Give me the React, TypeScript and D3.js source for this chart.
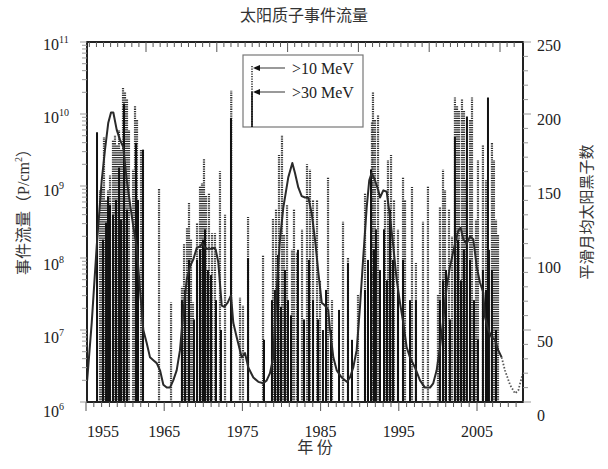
import React from "react";
import * as d3 from "d3";

// ---- Data ----
const sunspotYears = [1955.2, 1955.75, 1956.35, 1956.96, 1957.35, 1957.75, 1958.08, 1958.36, 1958.77, 1959.17, 1959.56, 1959.98, 1960.37, 1960.77, 1961.18, 1961.58, 1961.98, 1962.39, 1962.79, 1963.19, 1963.6, 1964.0, 1964.4, 1964.81, 1965.2, 1965.6, 1966.01, 1966.41, 1966.81, 1967.22, 1967.62, 1968.02, 1968.43, 1968.83, 1969.11, 1969.43, 1969.91, 1970.43, 1970.72, 1971.04, 1971.45, 1971.76, 1972.17, 1972.57, 1972.85, 1973.26, 1973.86, 1974.26, 1974.66, 1975.27, 1975.87, 1976.47, 1976.88, 1977.28, 1977.68, 1978.09, 1978.49, 1978.89, 1979.49, 1979.98, 1980.3, 1980.7, 1981.11, 1981.51, 1981.91, 1982.32, 1982.72, 1983.12, 1983.53, 1983.92, 1984.32, 1984.53, 1984.93, 1985.34, 1985.94, 1986.55, 1986.94, 1987.34, 1987.75, 1988.15, 1988.55, 1988.96, 1989.27, 1989.56, 1989.96, 1990.36, 1990.57, 1990.97, 1991.38, 1991.77, 1992.17, 1992.58, 1992.98, 1993.38, 1993.79, 1994.19, 1994.79, 1995.4, 1996.0, 1996.61, 1997.0, 1997.41, 1997.81, 1998.21, 1998.62, 1999.02, 1999.63, 2000.02, 2000.31, 2000.63, 2001.04, 2001.44, 2001.84, 2002.25, 2002.64, 2003.04, 2003.25, 2003.65, 2004.06, 2004.46, 2004.85, 2005.26];
const sunspotValues = [15, 55, 108, 154, 175, 194, 201, 201, 189, 182, 177, 154, 138, 122, 108, 78, 50, 41, 31, 29, 27, 22, 12, 10, 10, 15, 22, 36, 62, 85, 94, 99, 107, 108, 110, 107, 106, 107, 106, 97, 67, 66, 69, 74, 55, 45, 31, 34, 24, 17, 14, 13, 15, 20, 31, 78, 113, 135, 156, 166, 159, 149, 143, 142, 142, 131, 113, 90, 69, 67, 64, 50, 31, 22, 17, 14, 17, 24, 36, 66, 101, 135, 154, 159, 154, 147, 142, 147, 146, 129, 108, 85, 69, 55, 38, 31, 24, 15, 10, 10, 13, 22, 38, 57, 80, 94, 110, 119, 121, 113, 110, 115, 113, 94, 83, 76, 59, 50, 45, 43, 36, 31];
const predictedYears = [2005.26, 2005.66, 2006.27, 2006.87, 2007.27, 2007.68, 2007.84];
const predictedValues = [31, 22, 12, 6, 8, 17, 20];

// >10 MeV event fluences (P/cm^2)
const p10Years = [1956.75, 1956.99, 1957.23, 1957.48, 1957.72, 1957.96, 1958.32, 1958.56, 1958.8, 1959.05, 1959.29, 1959.53, 1959.77, 1960.01, 1960.25, 1960.74, 1960.98, 1961.22, 1961.7, 1961.94, 1963.88, 1965.33, 1966.65, 1966.9, 1967.26, 1967.5, 1967.74, 1967.98, 1968.47, 1968.83, 1969.07, 1969.31, 1969.55, 1969.91, 1970.28, 1970.64, 1971.24, 1971.85, 1972.6, 1973.66, 1974.02, 1974.63, 1976.44, 1977.64, 1978.01, 1978.37, 1978.73, 1978.97, 1979.34, 1979.94, 1980.18, 1980.54, 1981.15, 1981.75, 1982.11, 1982.48, 1982.96, 1983.32, 1984.29, 1984.77, 1986.1, 1986.7, 1987.91, 1988.76, 1989.6, 1989.72, 1989.96, 1990.33, 1991.17, 1991.53, 1991.9, 1992.26, 1992.74, 1993.35, 1993.59, 1994.43, 1994.91, 1995.76, 1996.36, 1997.57, 1997.81, 1998.18, 1998.42, 1998.9, 1999.26, 1999.62, 1999.87, 2000.11, 2000.47, 2000.71, 2000.95, 2001.44, 2001.68, 2002.16, 2002.4, 2003.0, 2003.37, 2004.09, 2004.33, 2004.58, 2004.82];
const p10Fluence = [8.8e8, 9.7e8, 4.8e9, 6.4e8, 8.8e8, 1.4e9, 4.4e9, 5.1e9, 3.7e9, 6.0e9, 3.2e9, 2.3e10, 2.0e10, 1.6e10, 6.0e9, 1.7e9, 1.3e10, 8.3e9, 3.2e9, 3.2e9, 9.4e8, 2.4e7, 4.0e7, 1.6e8, 2.6e8, 5.8e8, 1.8e8, 2.4e7, 3.1e8, 1.0e9, 1.1e9, 2.4e9, 7.5e8, 7.9e8, 2.2e8, 2.2e8, 1.6e9, 4.0e8, 2.1e10, 2.8e7, 2.2e7, 3.7e8, 1.1e8, 3.6e8, 4.7e8, 2.7e9, 5.1e9, 2.1e8, 5.5e8, 1.3e8, 4.7e8, 1.2e8, 2.5e8, 2.0e9, 1.7e9, 6.4e8, 6.4e8, 4.9e7, 1.3e9, 2.6e7, 3.2e8, 1.0e8, 3.1e7, 7.9e8, 7.7e9, 2.0e10, 8.3e9, 9.8e9, 6.4e8, 2.3e9, 2.7e9, 6.4e8, 2.5e8, 1.3e9, 6.4e8, 9.7e8, 8.5e7, 3.2e8, 1.0e9, 3.1e7, 5.1e8, 1.7e9, 8.8e8, 4.7e8, 2.0e8, 1.7e10, 1.3e10, 1.1e10, 1.6e10, 1.1e10, 1.2e9, 8.3e9, 1.7e10, 3.4e8, 2.3e9, 3.7e9, 1.2e9, 4.0e9, 2.3e9, 3.4e8, 2.1e8];

// >30 MeV event fluences (P/cm^2)
const p30Years = [1956.39, 1957.11, 1957.48, 1957.72, 1957.96, 1958.32, 1958.68, 1959.05, 1959.29, 1959.65, 1960.01, 1961.1, 1961.34, 1961.94, 1966.65, 1967.02, 1967.5, 1968.1, 1968.47, 1968.83, 1969.19, 1969.43, 1969.79, 1970.16, 1970.76, 1971.36, 1972.57, 1974.63, 1976.56, 1977.52, 1977.89, 1978.25, 1978.61, 1979.09, 1979.46, 1979.82, 1980.66, 1981.39, 1981.99, 1982.48, 1983.08, 1983.68, 1984.05, 1984.65, 1985.62, 1986.7, 1987.19, 1988.76, 1989.12, 1989.48, 1989.84, 1990.08, 1990.57, 1991.05, 1991.41, 1991.78, 1992.14, 1992.74, 1993.35, 1994.19, 1994.91, 1997.81, 1998.18, 1998.54, 1999.02, 1999.62, 1999.99, 2000.35, 2000.71, 2001.07, 2001.44, 2001.92, 2002.4, 2003.0, 2003.37, 2003.61, 2003.73, 2004.09, 2004.58];
const p30Fluence = [5.6e9, 1.8e8, 3.1e8, 7.1e8, 5.5e8, 4.0e8, 6.4e8, 1.8e9, 3.4e8, 1.4e10, 4.7e8, 4.0e9, 6.4e8, 3.2e9, 2.6e7, 3.6e7, 9.4e7, 1.4e7, 9.4e7, 1.3e8, 1.8e8, 2.5e8, 6.8e7, 5.8e7, 2.6e7, 1.0e7, 8.8e9, 1.0e8, 7.3e6, 2.6e7, 3.6e7, 1.1e8, 2.1e7, 6.8e7, 2.6e7, 1.6e7, 1.3e8, 1.4e7, 9.4e7, 2.6e7, 1.4e7, 1.0e7, 3.6e7, 1.0e7, 1.9e7, 8.5e7, 7.3e6, 3.6e7, 9.4e7, 1.7e9, 1.3e8, 2.5e8, 6.8e7, 2.5e8, 4.9e7, 4.7e8, 9.4e7, 3.6e7, 9.4e7, 2.6e7, 2.6e7, 2.6e7, 4.9e7, 6.8e7, 1.4e7, 4.8e9, 1.8e8, 4.9e7, 1.3e8, 9.2e9, 9.4e7, 2.6e7, 7.3e6, 6.8e7, 3.6e7, 1.7e10, 1.3e8, 6.8e7, 1.0e7];

const leftTickExponents = [6, 7, 8, 9, 10, 11];
const rightTickValues = [0, 50, 100, 150, 200, 250];
const yearLabels = [1955, 1965, 1975, 1985, 1995, 2005];
const legendLabels = [">10 MeV", ">30 MeV"];
const title = "太阳质子事件流量";
const leftTitle = "事件流量";
const rightTitle = "平滑月均太阳黑子数";
const xTitle = "年 份";

const W = 608;
const H = 469;
const L = 87, R = 523, T = 42, B = 402;

const SERIF = "'Liberation Serif', 'DejaVu Serif', serif";
const CJK = "'Noto Sans CJK SC', sans-serif";

export default function App() {
  const x = d3.scaleLinear().domain([1955.18, 2007.84]).range([L, R]);
  const yL = d3.scaleLog().domain([1e6, 1e11]).range([B, T]);
  const yR = d3.scaleLinear().domain([0, 250]).range([B, T]);
  // label placement scales (labels in the reference sit slightly off the frame grid)
  const yLLabel = d3.scaleLog().domain([1e6, 1e11]).range([411, 44]);
  const yRLabel = d3.scaleLinear().domain([0, 250]).range([415, 45]);
  const xAxis = d3.scaleLinear().domain([1955, 2005]).range([86, 477]);
  const topAxis = d3.scaleLinear().domain([0, 50]).range([146, 500]);

  const line = d3
    .line<number>()
    .x((_, i) => x(sunspotYears[i]))
    .y((d) => yR(d));
  const predLine = d3
    .line<number>()
    .x((_, i) => x(predictedYears[i]))
    .y((d) => yR(d));

  const leftTicks: { v: number; major: boolean }[] = [];
  for (let e = 6; e <= 10; e++) {
    for (let k = 1; k <= 9; k++) leftTicks.push({ v: k * Math.pow(10, e), major: k === 1 });
  }
  leftTicks.push({ v: 1e11, major: true });

  const rightTicks = d3.range(0, 251, 10);
  const bottomTicks = d3.range(1955, 2011, 1);
  const topTicks = d3.range(-8, 53, 1);

  return (
    <div style={{ position: "absolute", left: 0, top: 0 }}>
      <svg width={W} height={H} viewBox={`0 0 ${W} ${H}`} style={{ display: "block", background: "#fff" }}>
        <rect x={0} y={0} width={W} height={H} fill="#fff" />
        <text x={304} y={21} textAnchor="middle" fontFamily={CJK} fontSize={16} fill="#333">
          {title}
        </text>

        {/* >10 MeV dotted event lines */}
        <g stroke="#333" strokeWidth={2.2} strokeDasharray="1.3 1">
          {p10Years.map((yr, i) => (
            <line key={"a" + i} x1={x(yr)} x2={x(yr)} y1={B} y2={yL(p10Fluence[i])} />
          ))}
        </g>
        {/* >30 MeV solid event lines */}
        <g stroke="#111" strokeWidth={2}>
          {p30Years.map((yr, i) => (
            <line key={"b" + i} x1={x(yr)} x2={x(yr)} y1={B} y2={yL(p30Fluence[i])} />
          ))}
        </g>

        {/* sunspot curve */}
        <path d={line(sunspotValues) || ""} fill="none" stroke="#2a2a2a" strokeWidth={2} strokeLinejoin="round" />
        <path d={predLine(predictedValues) || ""} fill="none" stroke="#555" strokeWidth={1.8} strokeDasharray="1.5 1.8" />

        {/* frame */}
        <rect x={L} y={T} width={R - L} height={B - T} fill="none" stroke="#222" strokeWidth={2} />

        {/* top ticks */}
        <g stroke="#555" strokeWidth={1}>
          {topTicks
            .filter((t) => topAxis(t) > L + 1 && topAxis(t) < R - 1)
            .map((t) => (
              <line key={"t" + t} x1={topAxis(t)} x2={topAxis(t)} y1={T} y2={T + (t % 10 === 0 ? 10 : 5)} />
            ))}
        </g>
        {/* bottom ticks */}
        <g stroke="#555" strokeWidth={1}>
          {bottomTicks.map((t) => (
            <line key={"bt" + t} x1={xAxis(t)} x2={xAxis(t)} y1={B} y2={B + ((t - 1955) % 10 === 0 ? 9 : 5)} />
          ))}
        </g>
        {/* left ticks */}
        <g stroke="#999" strokeWidth={1}>
          {leftTicks.map((t, i) => (
            <line key={"lt" + i} x1={L - (t.major ? 7 : 5)} x2={L} y1={yL(t.v)} y2={yL(t.v)} />
          ))}
        </g>
        {/* right ticks */}
        <g stroke="#999" strokeWidth={1}>
          {rightTicks.map((t) => (
            <line key={"rt" + t} x1={R} x2={R + (t % 50 === 0 ? 8 : 5)} y1={yR(t)} y2={yR(t)} />
          ))}
        </g>

        {leftTickExponents.map((e) => (
          <text key={"ll" + e} x={43} y={yLLabel(Math.pow(10, e)) + 5.5} fontFamily={SERIF} fontSize={16} fill="#222">
            10
            <tspan dy={-7} fontSize={10}>
              {e}
            </tspan>
          </text>
        ))}
        {rightTickValues.map((v) => (
          <text key={"rl" + v} x={537} y={yRLabel(v) + 5.5} fontFamily={SERIF} fontSize={16} fill="#222">
            {v}
          </text>
        ))}
        {yearLabels.map((yr, i) => (
          <text
            key={"yl" + yr}
            x={i === 0 ? L : xAxis(yr)}
            y={437}
            textAnchor={i === 0 ? "start" : "middle"}
            fontFamily={SERIF}
            fontSize={16}
            fill="#222"
          >
            {yr}
          </text>
        ))}

        <text x={315} y={453} textAnchor="middle" fontFamily={CJK} fontSize={16} fill="#333">
          {xTitle}
        </text>
        <text transform="translate(29,208) rotate(-90)" textAnchor="middle" fontSize={16} fill="#333">
          <tspan fontFamily={CJK}>{leftTitle}（</tspan>
          <tspan fontFamily={SERIF}>P/cm</tspan>
          <tspan fontFamily={SERIF} fontSize={10} dy={-7}>
            2
          </tspan>
          <tspan fontFamily={CJK} dy={7}>
            ）
          </tspan>
        </text>
        <text transform="translate(592,212) rotate(-90)" textAnchor="middle" fontFamily={CJK} fontSize={15} fill="#333">
          {rightTitle}
        </text>

        {/* legend */}
        <g>
          <rect x={243} y={55} width={120} height={72} fill="#fff" stroke="#777" strokeWidth={1.2} />
          <line x1={252} x2={252} y1={66} y2={127} stroke="#333" strokeWidth={1.6} strokeDasharray="1.2 1.3" />
          <line x1={252} x2={252} y1={92} y2={127} stroke="#111" strokeWidth={1.6} />
          {legendLabels.map((lab, i) => {
            const yy = 68 + i * 24;
            return (
              <g key={lab}>
                <line x1={257} x2={285} y1={yy} y2={yy} stroke="#777" strokeWidth={1.5} />
                <path d={`M${253},${yy} L${260},${yy - 3} L${260},${yy + 3} Z`} fill="#111" />
                <text x={292} y={yy + 6} fontFamily={SERIF} fontSize={16} fill="#222">
                  {lab}
                </text>
              </g>
            );
          })}
        </g>
      </svg>
    </div>
  );
}
